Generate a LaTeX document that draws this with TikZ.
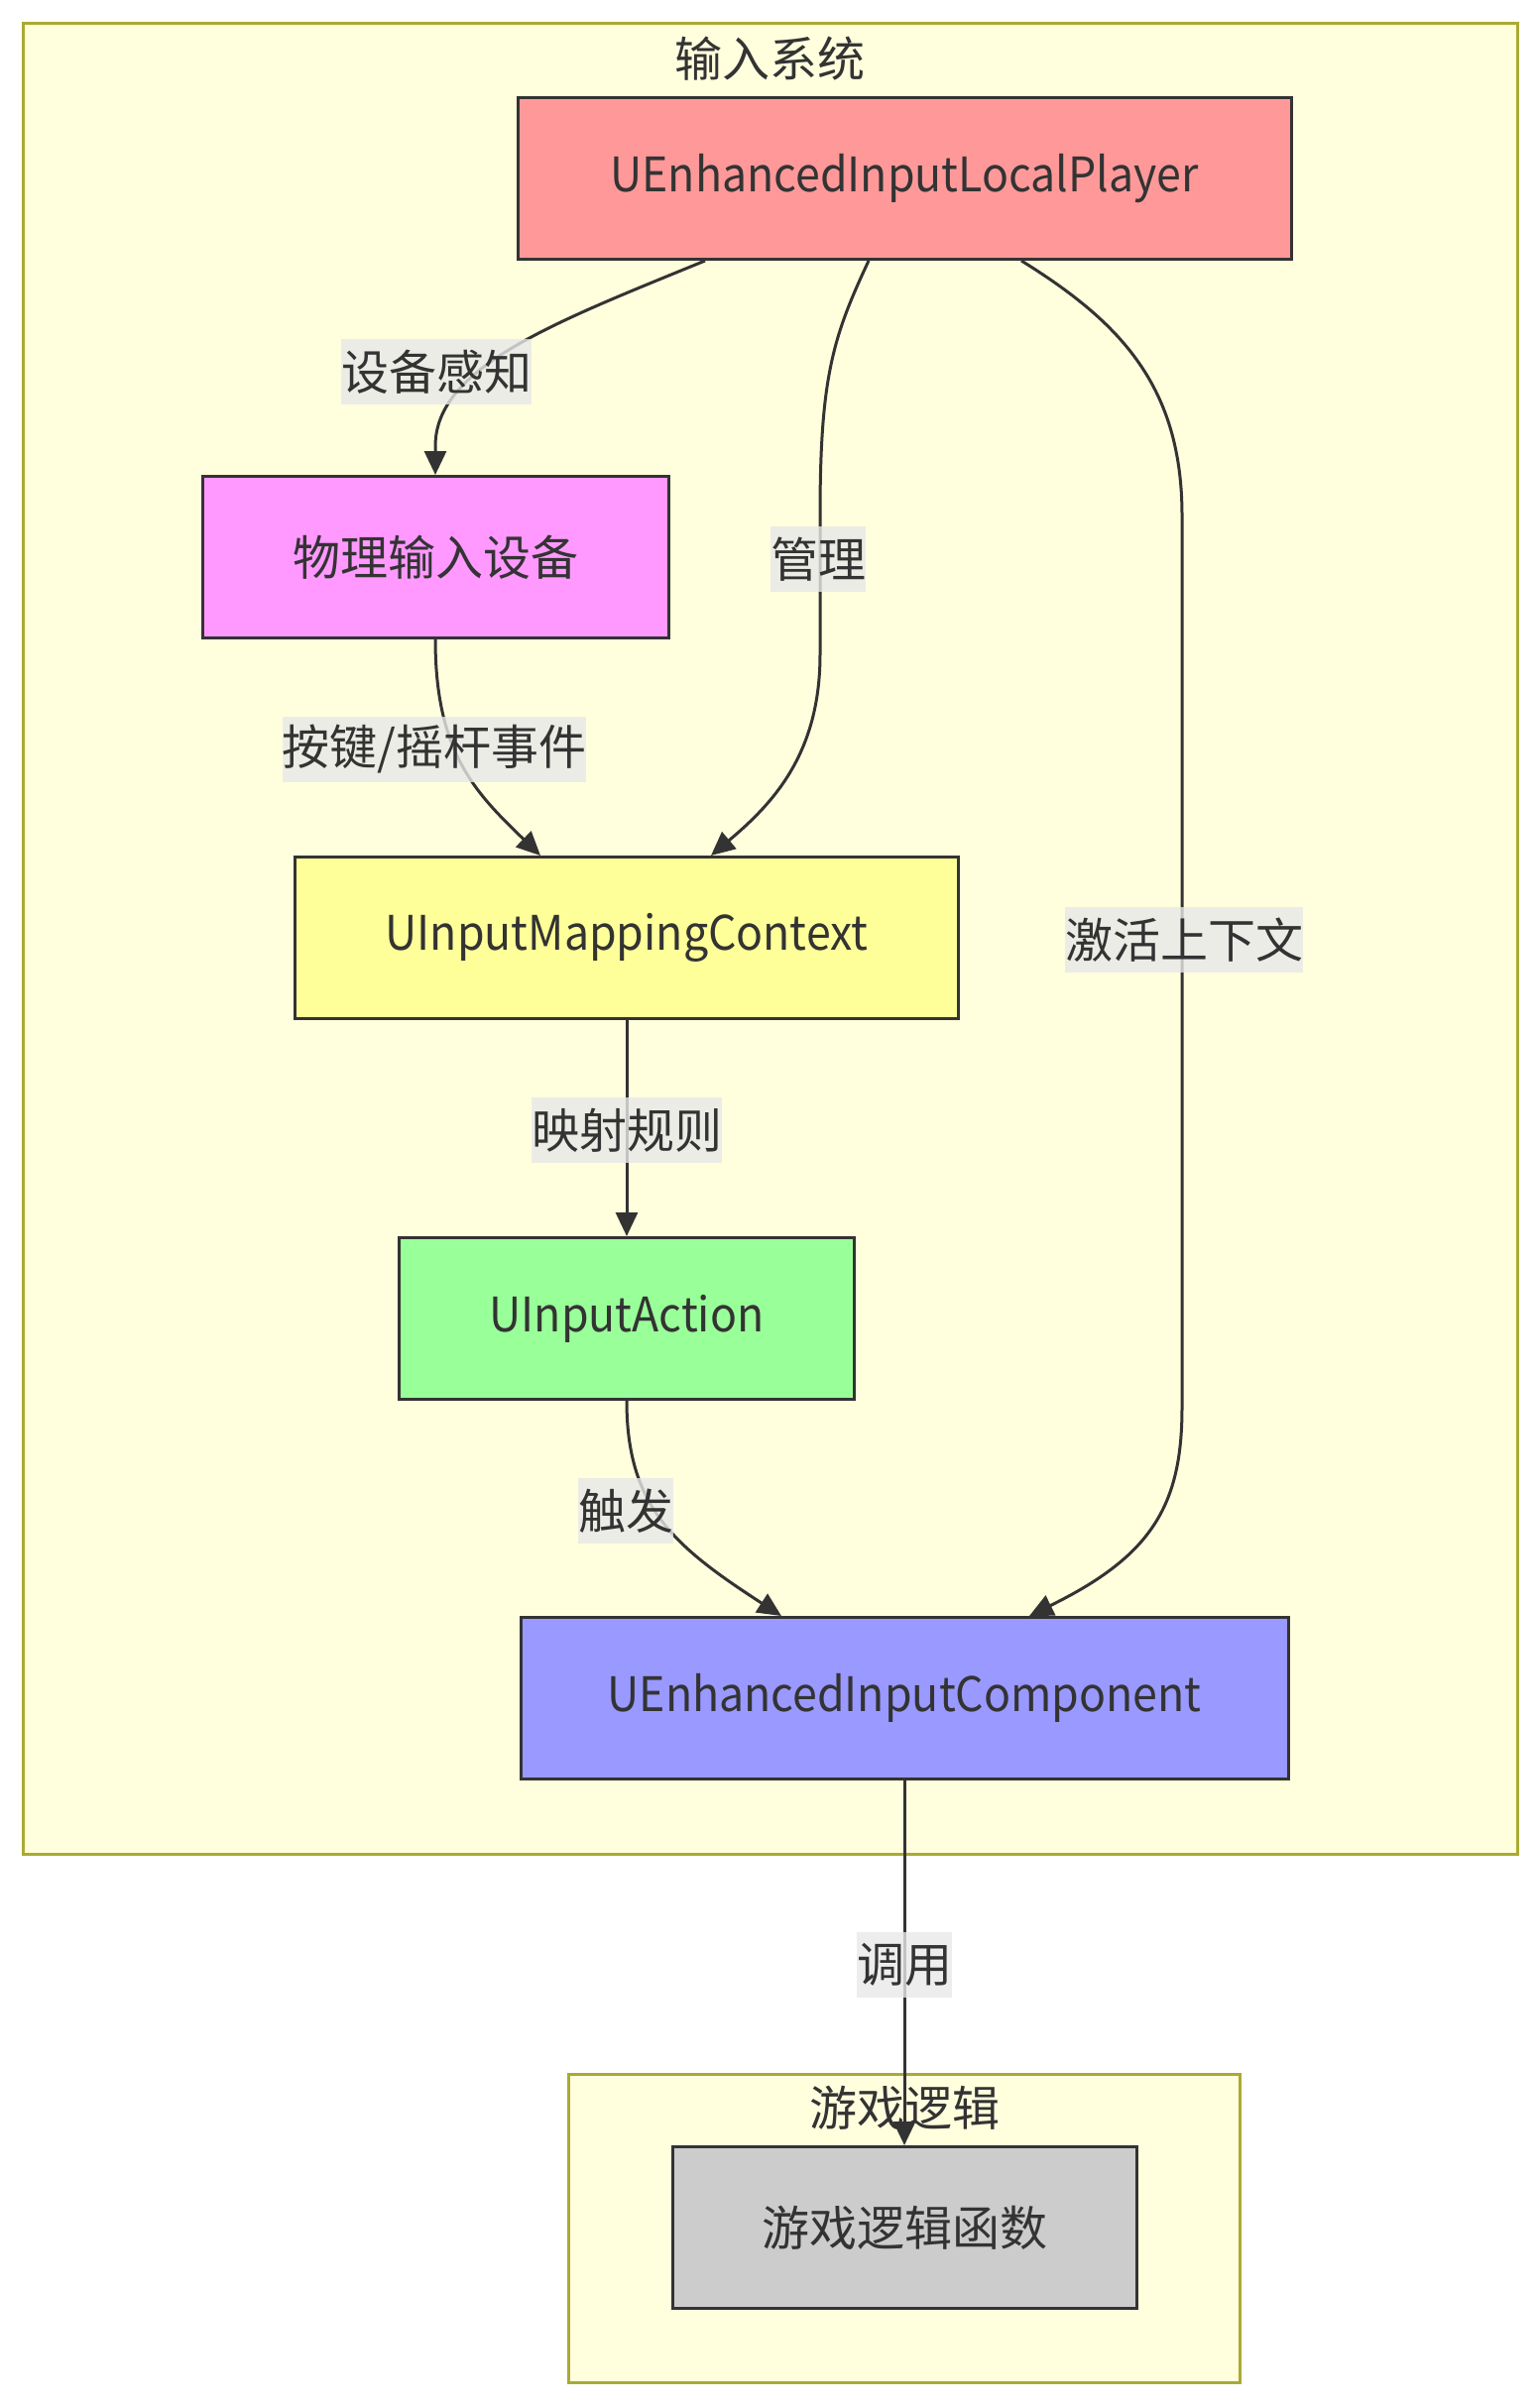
\documentclass[tikz,border=0pt]{standalone}
\usepackage{fontspec}
\setmainfont{Noto Sans CJK SC}
\newfontfamily\latinfont[FakeStretch=0.93]{Noto Sans CJK SC}
\usetikzlibrary{arrows.meta}
\definecolor{ink}{HTML}{333333}
\definecolor{clusterfill}{HTML}{FFFFDE}
\definecolor{clusterline}{HTML}{AAAA33}
\definecolor{playerfill}{HTML}{FF9999}
\definecolor{devicefill}{HTML}{FF99FF}
\definecolor{contextfill}{HTML}{FFFF99}
\definecolor{actionfill}{HTML}{99FF99}
\definecolor{componentfill}{HTML}{9999FF}
\definecolor{logicfill}{HTML}{CCCCCC}
\definecolor{tagfill}{HTML}{E8E8E8}

\begin{document}
\begin{tikzpicture}[
  x=1pt, y=-1pt,
  font=\fontsize{48}{56}\selectfont,
  text=ink,
  box/.style={
    draw=ink,
    line width=3pt,
    minimum height=163pt,
    inner sep=0pt
  },
  classbox/.style={box, font=\fontsize{48}{56}\latinfont},
  cluster/.style={
    draw=clusterline,
    line width=3pt,
    fill=clusterfill,
    inner sep=0pt
  },
  title/.style={inner sep=0pt},
  tag/.style={
    fill=tagfill,
    fill opacity=0.8,
    text opacity=1,
    inner sep=0pt,
    minimum height=66pt
  },
  arrow/.style={-{Triangle[length=24pt,width=22pt]}, line width=3pt, draw=ink}
]
\useasboundingbox (0,0) rectangle (1553,2429);

\node[cluster, minimum width=1507pt, minimum height=1847pt] (inputsys) at (776.5,946.5) {};
\node[cluster, minimum width=677pt, minimum height=311pt] (gamesys) at (911.5,2247.5) {};
\node[title] (inputtitle) at (776,59) {输入系统};
\node[title] (gametitle) at (912,2126) {游戏逻辑};

\node[classbox, fill=playerfill, minimum width=780pt] (lps) at (912,180) {UEnhancedInputLocalPlayer};
\node[box, fill=devicefill, minimum width=470pt] (dev) at (439,562) {物理输入设备};
\node[classbox, fill=contextfill, minimum width=669pt] (imc) at (632,946) {UInputMappingContext};
\node[classbox, fill=actionfill, minimum width=459pt] (act) at (632,1330) {UInputAction};
\node[classbox, fill=componentfill, minimum width=774pt] (eic) at (912,1713) {UEnhancedInputComponent};
\node[box, fill=logicfill, minimum width=468pt] (logic) at (912,2247) {游戏逻辑函数};

\draw[arrow] ([xshift=-201pt]lps.south) .. controls (560,325) and (439,370) .. (439,450) -- (dev.north);
\draw[arrow] ([xshift=-36pt]lps.south) .. controls (840,340) and (827,380) .. (827,520) -- (827,660) .. controls (827,760) and (780,810) .. ([xshift=85pt]imc.north);
\draw[arrow] ([xshift=118pt]lps.south) .. controls (1130,325) and (1192,390) .. (1192,520) -- (1192,1420) .. controls (1192,1520) and (1160,1570) .. ([xshift=126pt]eic.north);
\draw[arrow] (dev.south) .. controls (439,760) and (480,800) .. ([xshift=-87pt]imc.north);
\draw[arrow] (imc) -- (act);
\draw[arrow] (act.south) .. controls (632,1520) and (680,1560) .. ([xshift=-124pt]eic.north);
\draw[arrow] (eic) -- (logic);

\node[tag] (sense) at (440,375) {设备感知};
\node[tag] (manage) at (825,564) {管理};
\node[tag] (keyevt) at (438,756) {按键/摇杆事件};
\node[tag] (activate) at (1194,948) {激活上下文};
\node[tag] (maprule) at (632,1140) {映射规则};
\node[tag] (trigger) at (631,1524) {触发};
\node[tag] (invoke) at (912,1982) {调用};

\end{tikzpicture}
\end{document}
